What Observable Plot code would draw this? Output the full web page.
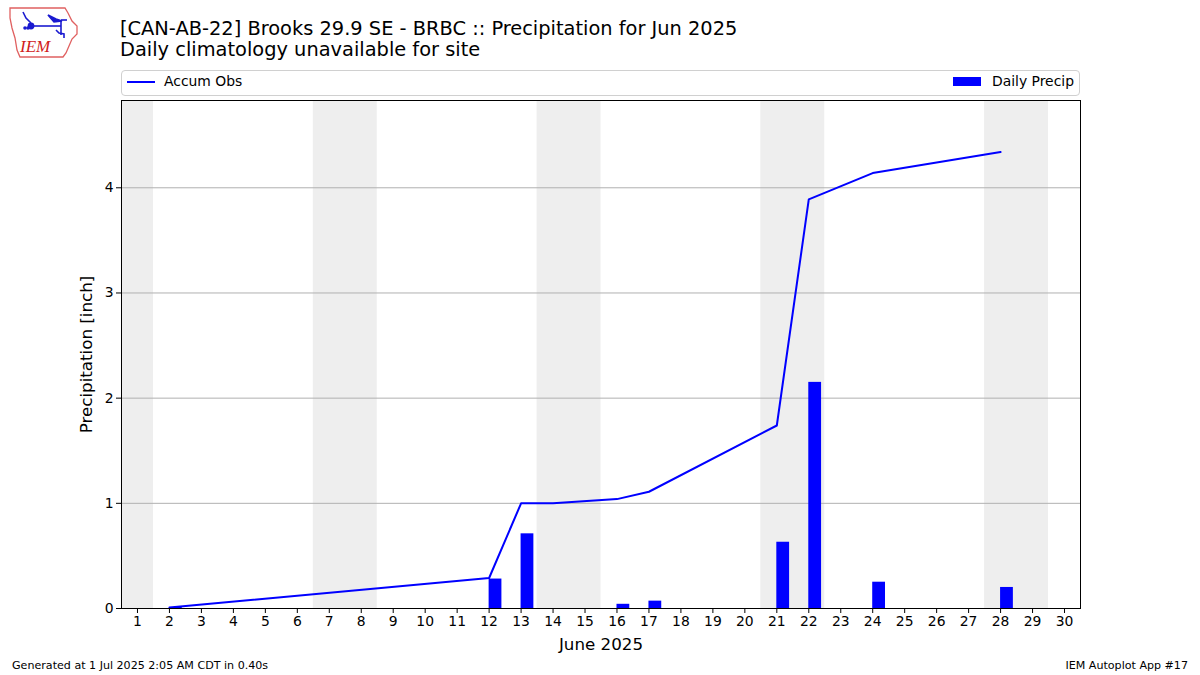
<!DOCTYPE html>
<html>
<head>
<meta charset="utf-8">
<script src="https://cdn.jsdelivr.net/npm/d3@7"></script>
<script src="https://cdn.jsdelivr.net/npm/@observablehq/plot@0.6"></script>
<style>
  html, body { margin: 0; padding: 0; background: #fff; }
  #wrap { position: relative; width: 1200px; height: 675px; font-family: "DejaVu Sans", sans-serif; color: #000; overflow: hidden; }
  #chart { position: absolute; left: 0; top: 0; }
  .title { position: absolute; left: 120px; font-size: 19.4px; line-height: 21px; white-space: nowrap; }
  #legend { position: absolute; left: 121px; top: 70px; width: 957px; height: 24px; border: 1px solid #d0d0d0; border-radius: 4px; font-size: 13.9px; }
  .foot { position: absolute; top: 659px; font-size: 11.1px; white-space: nowrap; }
</style>
</head>
<body>
<div id="wrap">
  <div id="chart"></div>
  <svg id="logo" style="position:absolute;left:6px;top:4px" width="76" height="56" viewBox="0 0 76 56">
    <path d="M4,4 L59,4 L62,9 L66,17 L71,22 L71,30 L66,35 L63,42 L60,49 L57,53 L14,53 L11,46 L9,34 L6,24 L4,14 Z" fill="none" stroke="#e06060" stroke-width="1.3"/>
    <g stroke="#1a1ad0" stroke-width="1.6" fill="#1a1ad0">
      <line x1="25" y1="22" x2="55" y2="22"/>
      <circle cx="25" cy="22" r="2.6"/>
      <path d="M42,11 L50,15 L56,17 L48,18 Z"/>
      <line x1="55" y1="16" x2="55" y2="31"/>
      <line x1="55" y1="16" x2="61" y2="16"/>
      <path d="M17,8 L20,14 L25,19" fill="none"/>
      <circle cx="19" cy="24" r="1"/>
      <circle cx="22" cy="24" r="1"/>
      <path d="M50,26 L53,29 L58,30 L58,34" fill="none"/>
    </g>
    <text x="14" y="48" font-family="Liberation Serif, serif" font-style="italic" font-size="17" fill="#d02020">IEM</text>
  </svg>
  <div class="title" style="top:18px">[CAN-AB-22] Brooks 29.9 SE - BRBC :: Precipitation for Jun 2025</div>
  <div class="title" style="top:39px">Daily climatology unavailable for site</div>
  <div id="legend">
    <svg style="position:absolute;left:4px;top:4px" width="32" height="16"><line x1="1" y1="7" x2="29" y2="7" stroke="blue" stroke-width="2"/></svg>
    <span style="position:absolute;left:42px;top:2px">Accum Obs</span>
    <svg style="position:absolute;left:831px;top:5px" width="30" height="12"><rect x="0" y="1" width="28" height="9" fill="blue"/></svg>
    <span style="position:absolute;left:870px;top:2px">Daily Precip</span>
  </div>
  <div class="foot" style="left:12px">Generated at 1 Jul 2025 2:05 AM CDT in 0.40s</div>
  <div class="foot" style="right:12px">IEM Autoplot App #17</div>
</div>
<script>
// Days of June 2025 with observations
const obsDays   = [2, 12, 13, 14, 16, 17, 21, 22, 24, 28];
const dailyPrecip = [0.01, 0.28, 0.71, 0.0, 0.04, 0.07, 0.63, 2.15, 0.25, 0.20];
const accumObs    = [0.01, 0.29, 1.00, 1.00, 1.04, 1.11, 1.74, 3.89, 4.14, 4.34];
// Weekend days (shaded)
const weekendDays = [1, 7, 8, 14, 15, 21, 22, 28, 29];
const dayTicks = d3.range(1, 31);
const yTicks = [0, 1, 2, 3, 4];
const gridTicks = [1, 2, 3, 4];

const obs = obsDays.map((d, i) => ({day: d, precip: dailyPrecip[i], accum: accumObs[i]}));
// merge consecutive weekend days into single bands
const weekends = [];
for (const d of weekendDays) {
  const last = weekends[weekends.length - 1];
  if (last && last.end === d - 1) last.end = d;
  else weekends.push({start: d, end: d});
}
weekends.forEach(w => { w.x1 = Math.max(0.5, w.start - 0.5); w.x2 = Math.min(30.5, w.end + 0.5); });
const barWidth = 0.4;

const font = "DejaVu Sans, sans-serif";
const chart = Plot.plot({
  width: 1200,
  height: 675,
  marginTop: 100,
  marginBottom: 67,
  marginLeft: 121,
  marginRight: 120,
  style: {fontFamily: font, fontSize: "13.9px", color: "#000", background: "transparent", overflow: "visible"},
  x: {domain: [0.5, 30.5]},
  y: {domain: [0, 4.83]},
  marks: [
    Plot.rect(weekends, {x1: "x1", x2: "x2", fill: "#eeeeee"}),
    Plot.gridY(gridTicks, {stroke: "#b0b0b0", strokeOpacity: 1, strokeWidth: 1}),
    Plot.rect(obs, {x1: "day", x2: d => d.day + barWidth, y1: 0, y2: "precip", fill: "blue"}),
    Plot.line(obs, {x: "day", y: "accum", stroke: "blue", strokeWidth: 2}),
    Plot.frame({stroke: "black", strokeWidth: 1}),
    Plot.axisX({ticks: dayTicks, tickFormat: d => String(d), tickSize: 5, tickPadding: 3,
      label: "June 2025", labelAnchor: "center", labelArrow: "none", labelOffset: 41, fontSize: "13.9px"}),
    Plot.axisY({ticks: yTicks, tickFormat: d => String(d), tickSize: 5, tickPadding: 3,
      label: "Precipitation [inch]", labelAnchor: "center", labelArrow: "none", labelOffset: 41, fontSize: "13.9px"})
  ]
});
document.getElementById("chart").appendChild(chart);
// enlarge axis labels
chart.querySelectorAll("[aria-label='x-axis label'] text, [aria-label='y-axis label'] text").forEach(t => t.style.fontSize = "16.7px");
</script>
</body>
</html>
